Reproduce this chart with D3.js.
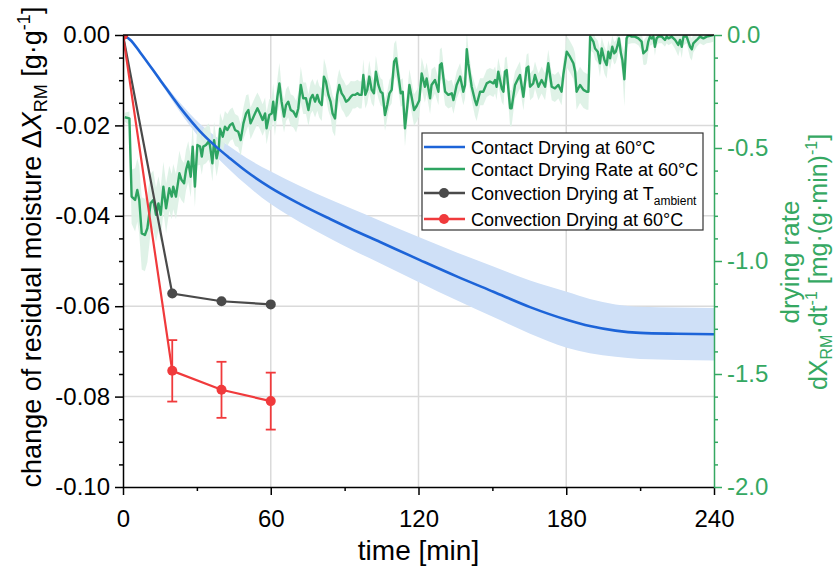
<!DOCTYPE html>
<html>
<head>
<meta charset="utf-8">
<script src="https://cdn.jsdelivr.net/npm/d3@7"></script>
<style>
  html, body { margin: 0; padding: 0; background: #fff; overflow: hidden; }
  svg { display: block; font-family: "Liberation Sans", Arial, sans-serif; }
</style>
</head>
<body>
<div id="chart"></div>
<script>
// ---- data ----
// contact drying at 60 C (left axis), mean and spread
var blueTime  = [0, 3, 6.9, 15, 23, 31.3, 38, 43.5, 50.2, 59.7, 71.9, 84.1, 92.2, 104.4, 120.6, 135.5, 150.4, 165.3, 180.2, 189.6, 200, 210, 225, 240];
var blueValue = [0, -0.0011, -0.0038, -0.0099, -0.0159, -0.0213, -0.0248, -0.0273, -0.0302, -0.0337, -0.0374, -0.0407, -0.0428, -0.0458, -0.0498, -0.0534, -0.0568, -0.0602, -0.0630, -0.0644, -0.0654, -0.0659, -0.0661, -0.0662];
var blueSd    = [0, 0, 0.0002, 0.0005, 0.001, 0.0016, 0.0022, 0.0026, 0.003, 0.0036, 0.004, 0.0043, 0.0045, 0.0047, 0.005, 0.0053, 0.0056, 0.0059, 0.0062, 0.006, 0.0058, 0.0058, 0.0058, 0.0058];

// contact drying rate (right axis): [time, rate, spread]
var greenRate = [
  [0.7,-0.364,0.02],[2.6,-0.369,0.03],[3.5,-0.715,0.12],[4.9,-0.730,0.14],[5.8,-0.686,0.14],
  [6.6,-0.730,0.15],[7.6,-0.878,0.16],[8.9,-0.885,0.16],[9.9,-0.855,0.15],[11.2,-0.745,0.13],
  [12.3,-0.730,0.13],[13.4,-0.796,0.12],[14.4,-0.745,0.12],[15.3,-0.796,0.12],[16.4,-0.671,0.11],
  [17.5,-0.767,0.11],[18.8,-0.678,0.10],[19.8,-0.715,0.10],[20.4,-0.671,0.10],[21.5,-0.715,0.10],
  [22.9,-0.612,0.10],[23.8,-0.642,0.09],[24.8,-0.656,0.09],[25.6,-0.597,0.09],[26.5,-0.560,0.09],
  [27.5,-0.627,0.09],[28.3,-0.494,0.10],[29.2,-0.671,0.09],[30.2,-0.487,0.09],[31.3,-0.494,0.08],
  [32.0,-0.538,0.08],[32.6,-0.494,0.08],[33.7,-0.487,0.08],[34.7,-0.472,0.08],[35.3,-0.487,0.08],
  [36.3,-0.568,0.08],[37.0,-0.465,0.08],[38.0,-0.546,0.08],[38.9,-0.501,0.07],[39.4,-0.415,0.07],
  [40.5,-0.450,0.07],[41.4,-0.406,0.07],[42.4,-0.420,0.07],[43.5,-0.398,0.07],[44.5,-0.391,0.07],
  [45.5,-0.420,0.07],[46.8,-0.428,0.07],[47.8,-0.465,0.07],[48.9,-0.391,0.07],[50.0,-0.347,0.08],
  [50.9,-0.332,0.07],[51.8,-0.391,0.07],[52.7,-0.369,0.07],[53.6,-0.347,0.07],[54.6,-0.324,0.07],
  [55.6,-0.347,0.07],[56.7,-0.376,0.07],[57.7,-0.347,0.07],[58.3,-0.413,0.07],[59.4,-0.354,0.07],
  [60.4,-0.347,0.07],[61.0,-0.295,0.08],[61.7,-0.376,0.07],[62.7,-0.273,0.08],[63.5,-0.214,0.09],
  [64.4,-0.295,0.07],[65.4,-0.361,0.07],[66.2,-0.310,0.07],[67.1,-0.295,0.07],[68.1,-0.332,0.07],
  [69.2,-0.339,0.07],[70.3,-0.361,0.07],[71.2,-0.324,0.07],[72.2,-0.221,0.08],[73.2,-0.280,0.07],
  [74.3,-0.280,0.07],[75.3,-0.332,0.07],[76.2,-0.280,0.07],[77.0,-0.265,0.07],[78.0,-0.295,0.07],
  [78.9,-0.265,0.07],[79.7,-0.295,0.07],[80.7,-0.310,0.07],[81.6,-0.184,0.08],[82.4,-0.206,0.07],
  [83.4,-0.265,0.07],[84.3,-0.295,0.07],[85.1,-0.347,0.08],[86.1,-0.369,0.08],[87.0,-0.265,0.07],
  [87.8,-0.221,0.07],[88.8,-0.258,0.07],[89.7,-0.273,0.07],[90.6,-0.295,0.07],[91.5,-0.288,0.07],
  [92.5,-0.273,0.07],[93.3,-0.265,0.06],[94.2,-0.265,0.06],[95.2,-0.258,0.06],[96.0,-0.265,0.06],
  [96.9,-0.265,0.06],[97.6,-0.177,0.07],[98.4,-0.265,0.06],[99.2,-0.243,0.06],[100.0,-0.184,0.07],
  [101.0,-0.243,0.06],[101.9,-0.258,0.06],[102.7,-0.162,0.07],[103.7,-0.221,0.06],[104.6,-0.251,0.06],
  [105.4,-0.258,0.06],[106.4,-0.354,0.07],[107.3,-0.310,0.06],[108.2,-0.258,0.06],[109.1,-0.243,0.06],
  [110.1,-0.118,0.08],[110.9,-0.103,0.08],[111.8,-0.177,0.07],[112.8,-0.258,0.06],[113.6,-0.251,0.06],
  [114.5,-0.413,0.08],[115.5,-0.310,0.07],[116.3,-0.221,0.07],[117.2,-0.273,0.07],[118.2,-0.332,0.07],
  [119.3,-0.313,0.07],[120.3,-0.290,0.07],[121.3,-0.170,0.07],[122.6,-0.229,0.07],[123.3,-0.192,0.07],
  [124.7,-0.280,0.07],[125.3,-0.221,0.07],[126.7,-0.199,0.06],[128.1,-0.251,0.06],[128.7,-0.133,0.07],
  [129.4,-0.125,0.07],[130.8,-0.251,0.06],[132.1,-0.265,0.06],[133.5,-0.258,0.06],[134.2,-0.288,0.06],
  [135.5,-0.221,0.06],[136.9,-0.184,0.06],[138.2,-0.251,0.06],[138.9,-0.221,0.06],[139.6,-0.063,0.08],
  [140.2,-0.125,0.07],[141.6,-0.229,0.06],[142.9,-0.288,0.07],[143.6,-0.310,0.07],[145.0,-0.251,0.06],
  [146.3,-0.251,0.06],[147.7,-0.214,0.06],[149.0,-0.206,0.06],[150.4,-0.214,0.06],[151.1,-0.199,0.06],
  [151.7,-0.229,0.06],[152.4,-0.162,0.06],[153.8,-0.236,0.06],[154.5,-0.251,0.06],[155.1,-0.162,0.06],
  [155.8,-0.155,0.06],[157.2,-0.324,0.08],[157.8,-0.324,0.08],[159.2,-0.221,0.06],[160.5,-0.192,0.06],
  [161.2,-0.177,0.06],[162.6,-0.273,0.06],[163.9,-0.147,0.06],[164.6,-0.140,0.06],[165.3,-0.229,0.06],
  [166.6,-0.214,0.06],[167.3,-0.177,0.06],[168.7,-0.229,0.06],[170.0,-0.199,0.06],[171.4,-0.229,0.06],
  [172.7,-0.125,0.06],[174.1,-0.229,0.06],[175.4,-0.236,0.06],[176.8,-0.221,0.06],[178.1,-0.251,0.06],
  [178.8,-0.177,0.06],[180.2,-0.074,0.07],[181.5,-0.096,0.07],[182.9,-0.125,0.07],[183.6,-0.162,0.08],
  [184.2,-0.251,0.08],[185.6,-0.221,0.08],[187.0,-0.243,0.08],[188.3,-0.251,0.08],[189.0,-0.251,0.08],
  [189.7,-0.007,0.06],[191.0,-0.029,0.05],[191.7,-0.060,0.05],[192.8,-0.074,0.05],[193.7,-0.125,0.06],
  [194.4,-0.059,0.05],[195.5,-0.111,0.06],[196.4,-0.133,0.06],[197.1,-0.074,0.05],[197.8,-0.103,0.05],
  [198.7,-0.052,0.05],[199.5,-0.081,0.05],[200.1,-0.074,0.05],[200.9,-0.044,0.05],[201.4,-0.015,0.04],
  [202.2,-0.081,0.05],[202.8,-0.111,0.06],[203.6,-0.196,0.12],[204.5,-0.015,0.05],[205.2,0.000,0.04],
  [206.6,-0.007,0.03],[207.9,-0.007,0.03],[209.3,-0.015,0.03],[210.6,-0.029,0.04],[211.3,-0.081,0.05],
  [212.0,-0.074,0.06],[212.7,-0.066,0.06],[213.3,-0.029,0.05],[214.0,-0.007,0.04],[214.7,-0.015,0.03],
  [215.4,-0.007,0.03],[216.0,-0.052,0.04],[216.7,-0.015,0.03],[217.4,-0.007,0.03],[218.8,-0.007,0.03],
  [220.1,-0.022,0.03],[220.8,-0.007,0.03],[221.5,-0.015,0.03],[222.8,-0.007,0.03],[224.2,-0.022,0.04],
  [225.5,-0.044,0.05],[226.2,-0.022,0.04],[226.9,-0.052,0.05],[227.6,-0.007,0.04],[228.9,-0.007,0.03],
  [230.3,-0.052,0.05],[231.0,-0.063,0.05],[231.6,-0.037,0.04],[233.0,-0.022,0.03],[234.3,-0.007,0.03],
  [235.7,-0.015,0.03],[237.0,-0.007,0.03],[238.4,-0.004,0.03],[239.7,0.000,0.03]
];

// convection drying (left axis)
var convTime     = [0, 20, 40, 60];
var ambientValue = [0, -0.0572, -0.0589, -0.0596];
var hotValue     = [0, -0.0743, -0.0785, -0.0810];
var hotErr       = [0, 0.0068, 0.0062, 0.0063];

var xTicks  = [0, 60, 120, 180, 240];
var yTicks  = [0, -0.02, -0.04, -0.06, -0.08, -0.10];
var y2Ticks = [0, -0.5, -1.0, -1.5, -2.0];

var legendLabels = ["Contact Drying at 60°C", "Contact Drying Rate at 60°C",
                    "Convection Drying at T", "Convection Drying at 60°C"];

// ---- layout ----
var width = 840, height = 567,
    margin = {top: 35, right: 126, bottom: 80, left: 123},
    innerWidth = width - margin.left - margin.right,
    innerHeight = height - margin.top - margin.bottom;

var blue = "#1d64d8", blueBand = "#cfe0f7",
    green = "#2ea461", greenBand = "#dcf1e4", greenAxis = "#35a862",
    grey = "#4a4a4a", red = "#f03a3c";

var xScale = d3.scaleLinear().domain([0, 240]).range([0, innerWidth]);
var yScale = d3.scaleLinear().domain([-0.10, 0]).range([innerHeight, 0]);
var y2Scale = d3.scaleLinear().domain([-2.0, 0]).range([innerHeight, 0]);

var svg = d3.select("#chart").append("svg")
    .attr("width", width)
    .attr("height", height);

svg.append("defs").append("clipPath").attr("id", "plot-clip")
  .append("rect")
    .attr("width", innerWidth)
    .attr("height", innerHeight);

var g = svg.append("g")
    .attr("transform", "translate(" + margin.left + "," + margin.top + ")");

// grid
g.append("g").selectAll("line")
  .data(xTicks.slice(1, -1))
  .enter().append("line")
    .attr("x1", function(d) { return xScale(d); })
    .attr("x2", function(d) { return xScale(d); })
    .attr("y1", 0).attr("y2", innerHeight)
    .attr("stroke", "#dadada").attr("stroke-width", 1.5);

g.append("g").selectAll("line")
  .data(yTicks.slice(1, -1))
  .enter().append("line")
    .attr("y1", function(d) { return yScale(d); })
    .attr("y2", function(d) { return yScale(d); })
    .attr("x1", 0).attr("x2", innerWidth)
    .attr("stroke", "#dadada").attr("stroke-width", 1.5);

var plot = g.append("g").attr("clip-path", "url(#plot-clip)");
var idx = d3.range(blueTime.length);

// bands
plot.append("path")
    .datum(idx)
    .attr("fill", blueBand)
    .attr("d", d3.area()
      .curve(d3.curveMonotoneX)
      .x(function(i) { return xScale(blueTime[i]); })
      .y0(function(i) { return yScale(blueValue[i] - blueSd[i]); })
      .y1(function(i) { return yScale(blueValue[i] + blueSd[i]); }));

plot.append("path")
    .datum(greenRate)
    .attr("fill", greenBand)
    .attr("opacity", 0.9)
    .attr("d", d3.area()
      .x(function(d) { return xScale(d[0]); })
      .y0(function(d) { return y2Scale(d[1] - d[2]); })
      .y1(function(d) { return y2Scale(d[1] + d[2]); }));

// lines
plot.append("path")
    .datum(greenRate)
    .attr("fill", "none")
    .attr("stroke", green)
    .attr("stroke-width", 2.4)
    .attr("stroke-linejoin", "round")
    .attr("d", d3.line()
      .x(function(d) { return xScale(d[0]); })
      .y(function(d) { return y2Scale(d[1]); }));

plot.append("path")
    .datum(idx)
    .attr("fill", "none")
    .attr("stroke", blue)
    .attr("stroke-width", 2.6)
    .attr("d", d3.line()
      .curve(d3.curveMonotoneX)
      .x(function(i) { return xScale(blueTime[i]); })
      .y(function(i) { return yScale(blueValue[i]); }));

function convSeries(values, color) {
  var ci = d3.range(convTime.length);
  plot.append("path")
      .datum(ci)
      .attr("fill", "none")
      .attr("stroke", color)
      .attr("stroke-width", 2.2)
      .attr("d", d3.line()
        .x(function(i) { return xScale(convTime[i]); })
        .y(function(i) { return yScale(values[i]); }));
  return ci;
}

var ci = convSeries(ambientValue, grey);
plot.selectAll(".dot-amb")
  .data(ci)
  .enter().append("circle")
    .attr("class", "dot-amb")
    .attr("cx", function(i) { return xScale(convTime[i]); })
    .attr("cy", function(i) { return yScale(ambientValue[i]); })
    .attr("r", 5)
    .attr("fill", grey);

convSeries(hotValue, red);

// error bars for the 60 C convection run
var errG = plot.selectAll(".err")
  .data(ci.filter(function(i) { return hotErr[i] > 0; }))
  .enter().append("g").attr("class", "err")
    .attr("stroke", red).attr("stroke-width", 1.8);
errG.append("line")
    .attr("x1", function(i) { return xScale(convTime[i]); })
    .attr("x2", function(i) { return xScale(convTime[i]); })
    .attr("y1", function(i) { return yScale(hotValue[i] + hotErr[i]); })
    .attr("y2", function(i) { return yScale(hotValue[i] - hotErr[i]); });
[1, -1].forEach(function(s) {
  errG.append("line")
      .attr("x1", function(i) { return xScale(convTime[i]) - 5; })
      .attr("x2", function(i) { return xScale(convTime[i]) + 5; })
      .attr("y1", function(i) { return yScale(hotValue[i] + s * hotErr[i]); })
      .attr("y2", function(i) { return yScale(hotValue[i] + s * hotErr[i]); });
});

plot.selectAll(".dot-hot")
  .data(ci)
  .enter().append("circle")
    .attr("class", "dot-hot")
    .attr("cx", function(i) { return xScale(convTime[i]); })
    .attr("cy", function(i) { return yScale(hotValue[i]); })
    .attr("r", 5)
    .attr("fill", red);

// ---- axes ----
function isMajor(v, step) {
  return Math.abs(Math.round(v / step) * step - v) < 1e-9;
}
var xMinor = d3.range(0, 241, 30).filter(function(v) { return !isMajor(v, 60); });
var yMinor = d3.range(-0.1, 0.0001, 0.005).filter(function(v) { return !isMajor(v, 0.02); });
var y2Minor = d3.range(-2.0, 0.0001, 0.1).filter(function(v) { return !isMajor(v, 0.5); });

function styleAxis(sel, color) {
  sel.attr("font-family", "'Liberation Sans', Arial, sans-serif").attr("font-size", 24);
  sel.selectAll("path, line").attr("stroke", color).attr("stroke-width", 1.5);
  sel.selectAll("text").attr("fill", color);
}

// minor ticks only: drop the domain line and the empty labels
function minorOnly(sel) {
  sel.select(".domain").remove();
  sel.selectAll("text").remove();
}

var gx = g.append("g")
    .attr("transform", "translate(0," + innerHeight + ")")
    .call(d3.axisBottom(xScale).tickValues(xTicks).tickSize(8).tickSizeOuter(0));
gx.call(styleAxis, "#000");
gx.selectAll("text").attr("y", 23);
g.append("g")
    .attr("transform", "translate(0," + innerHeight + ")")
    .call(d3.axisBottom(xScale).tickValues(xMinor).tickSize(4))
    .call(minorOnly)
    .call(styleAxis, "#000");

var gy = g.append("g")
    .call(d3.axisLeft(yScale).tickValues(yTicks).tickSize(8).tickSizeOuter(0).tickPadding(5)
      .tickFormat(function(d) { return d.toFixed(2); }));
gy.call(styleAxis, "#000");
g.append("g")
    .call(d3.axisLeft(yScale).tickValues(yMinor).tickSize(4))
    .call(minorOnly)
    .call(styleAxis, "#000");

var gy2 = g.append("g")
    .attr("transform", "translate(" + innerWidth + ",0)")
    .call(d3.axisRight(y2Scale).tickValues(y2Ticks).tickSize(8).tickSizeOuter(0).tickPadding(5)
      .tickFormat(function(d) { return d.toFixed(1); }));
gy2.call(styleAxis, greenAxis);
g.append("g")
    .attr("transform", "translate(" + innerWidth + ",0)")
    .call(d3.axisRight(y2Scale).tickValues(y2Minor).tickSize(4))
    .call(minorOnly)
    .call(styleAxis, greenAxis);

// top frame
g.append("line")
    .attr("x1", 0).attr("x2", innerWidth)
    .attr("y1", 0).attr("y2", 0)
    .attr("stroke", "#000").attr("stroke-width", 1.5);

// ---- axis titles ----
svg.append("text")
    .attr("x", margin.left + innerWidth / 2)
    .attr("y", 560)
    .attr("text-anchor", "middle")
    .attr("font-size", 28)
    .text("time [min]");

var yt = svg.append("text")
    .attr("transform", "translate(41,247) rotate(-90)")
    .attr("text-anchor", "middle")
    .attr("font-size", 27);
yt.append("tspan").text("change of residual moisture \u0394");
yt.append("tspan").attr("font-style", "italic").text("X");
yt.append("tspan").attr("font-size", 18).attr("dy", 6).text("RM");
yt.append("tspan").attr("dy", -6).text(" [g\u00b7g");
yt.append("tspan").attr("font-size", 18).attr("dy", -11).text("-1");
yt.append("tspan").attr("dy", 11).text("]");

svg.append("text")
    .attr("transform", "translate(799,262) rotate(-90)")
    .attr("text-anchor", "middle")
    .attr("font-size", 26)
    .attr("fill", greenAxis)
    .text("drying rate");

var r2 = svg.append("text")
    .attr("transform", "translate(827,262) rotate(-90)")
    .attr("text-anchor", "middle")
    .attr("font-size", 25)
    .attr("fill", greenAxis);
r2.append("tspan").text("dX");
r2.append("tspan").attr("font-size", 16).attr("dy", 5).text("RM");
r2.append("tspan").attr("dy", -5).text("\u00b7dt");
r2.append("tspan").attr("font-size", 16).attr("dy", -10).text("-1");
r2.append("tspan").attr("dy", 10).text(" [mg\u00b7(g\u00b7min)");
r2.append("tspan").attr("font-size", 16).attr("dy", -10).text("-1");
r2.append("tspan").attr("dy", 10).text("]");

// ---- legend ----
var legend = svg.append("g").attr("transform", "translate(422,133)");
legend.append("rect")
    .attr("width", 281).attr("height", 97)
    .attr("fill", "#fff").attr("stroke", "#333").attr("stroke-width", 1.2);

var rows = [
  {color: blue, dot: false, y: 14},
  {color: green, dot: false, y: 36},
  {color: grey, dot: true, y: 60},
  {color: red, dot: true, y: 86}
];
rows.forEach(function(r, k) {
  legend.append("line")
      .attr("x1", 2).attr("x2", 43)
      .attr("y1", r.y).attr("y2", r.y)
      .attr("stroke", r.color).attr("stroke-width", 2.4);
  if (r.dot) {
    legend.append("circle")
        .attr("cx", 22).attr("cy", r.y).attr("r", 5)
        .attr("fill", r.color);
  }
  var t = legend.append("text")
      .attr("x", 49).attr("y", r.y + 6.5)
      .attr("font-size", 18)
      .text(legendLabels[k]);
  if (k === 2) {
    t.append("tspan").attr("font-size", 12).attr("dy", 5).text("ambient");
  }
});
</script>
</body>
</html>
